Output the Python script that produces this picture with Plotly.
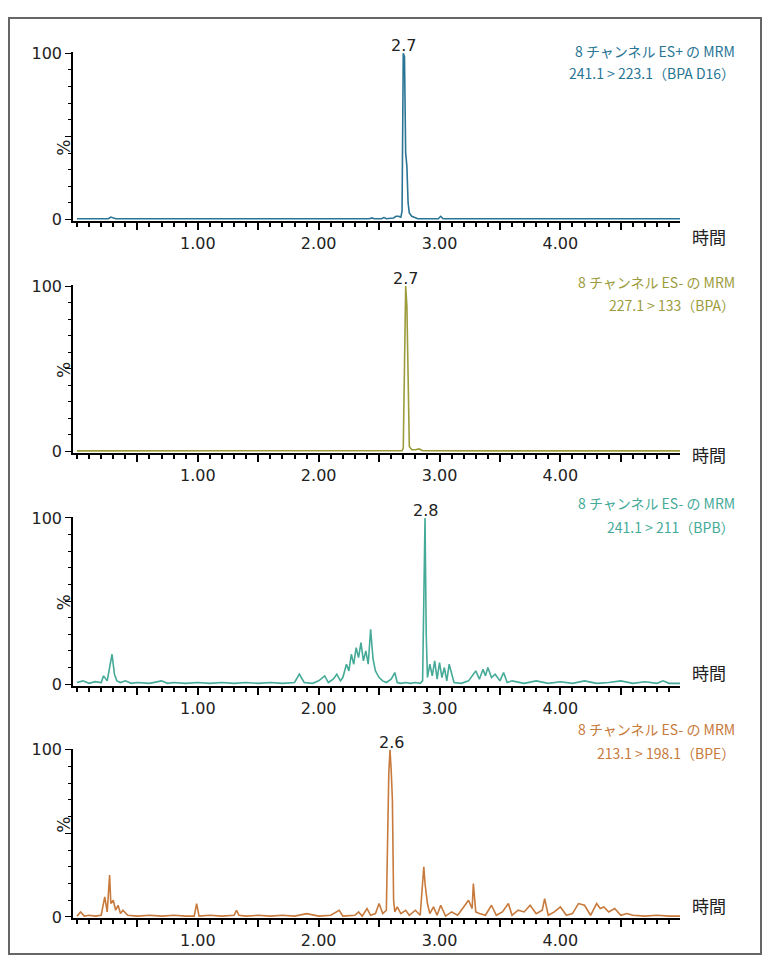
import plotly.graph_objects as go

W, H = 770, 971
OFF = 8
FW, FH = W - 2 * OFF, H - 2 * OFF

# ---- data ----
t1 = [0.0, 0.26, 0.28, 0.30, 0.32, 1.0, 2.0, 2.42, 2.44, 2.46, 2.52, 2.54, 2.56, 2.62, 2.64, 2.66, 2.68, 2.69, 2.70, 2.71, 2.72, 2.73, 2.74, 2.75, 2.77, 2.79, 2.82, 2.90, 2.99, 3.01, 3.03, 3.5, 4.0, 4.99]
y1 = [0.5, 0.5, 1.5, 1.0, 0.5, 0.5, 0.5, 0.5, 1.0, 0.5, 0.5, 1.2, 0.5, 1.0, 2.0, 2.0, 1.5, 5.0, 100, 98, 40, 32, 10, 4, 2, 1.5, 0.5, 0.5, 0.5, 2.0, 0.5, 0.5, 0.5, 0.5]

t2 = [0.0, 1.0, 2.0, 2.6, 2.69, 2.70, 2.71, 2.72, 2.73, 2.74, 2.75, 2.77, 2.80, 2.83, 2.86, 3.5, 4.99]
y2 = [0.3, 0.3, 0.3, 0.3, 0.5, 2, 60, 100, 88, 55, 3, 1, 1, 1.5, 0.5, 0.3, 0.3]

t3 = [0.0, 0.05, 0.1, 0.15, 0.2, 0.22, 0.25, 0.27, 0.29, 0.31, 0.33, 0.36, 0.4, 0.45, 0.5, 0.6, 0.7, 0.75, 0.8, 0.9,
      1.0, 1.1, 1.2, 1.3, 1.4, 1.5, 1.6, 1.7, 1.8, 1.84, 1.88, 1.95, 2.0, 2.05, 2.08, 2.12, 2.15, 2.18, 2.2, 2.23,
      2.25, 2.27, 2.29, 2.31, 2.33, 2.35, 2.37, 2.39, 2.41, 2.43, 2.45, 2.47, 2.5, 2.53, 2.56, 2.6, 2.63, 2.65, 2.68,
      2.72, 2.76, 2.8, 2.84, 2.86, 2.87, 2.88, 2.89, 2.9, 2.92, 2.94, 2.96, 2.98, 3.0, 3.02, 3.04, 3.06, 3.08, 3.12,
      3.18, 3.24, 3.28, 3.3, 3.33, 3.36, 3.38, 3.4, 3.43, 3.46, 3.5, 3.53, 3.56, 3.6, 3.7, 3.8, 3.9, 4.0, 4.1, 4.2,
      4.3, 4.4, 4.5, 4.6, 4.7, 4.8, 4.85, 4.9, 4.99]
y3 = [1, 2, 0.5, 1.5, 1, 5, 2, 10, 18, 6, 2, 1, 2, 0.5, 1, 0.5, 2, 0.5, 1, 0.5,
      1, 0.5, 1, 0.5, 1, 0.5, 1, 0.5, 1, 6, 1, 0.5, 2, 5, 1, 3, 6, 2, 4, 12,
      8, 18, 12, 22, 16, 25, 14, 20, 12, 33, 15, 8, 4, 2, 1, 3, 7, 1, 0.5,
      1, 0.5, 1, 0.5, 2, 60, 100, 30, 4, 12, 5, 14, 3, 13, 4, 10, 2, 12, 1,
      0.5, 2, 6, 8, 3, 9, 5, 10, 4, 6, 2, 7, 1, 2, 0.5, 2, 0.5, 1.5, 0.5, 2,
      0.5, 1, 2, 0.5, 1.5, 0.5, 2, 0.5, 0.5]

t4 = [0.0, 0.03, 0.06, 0.1, 0.15, 0.2, 0.23, 0.25, 0.27, 0.28, 0.3, 0.32, 0.34, 0.36, 0.38, 0.42, 0.5, 0.6, 0.7, 0.8,
      0.9, 0.97, 0.99, 1.01, 1.1, 1.2, 1.3, 1.32, 1.34, 1.4, 1.5, 1.6, 1.7, 1.8, 1.9, 2.0, 2.1, 2.17, 2.2, 2.3,
      2.33, 2.36, 2.4, 2.43, 2.47, 2.5, 2.53, 2.56, 2.58, 2.59, 2.60, 2.61, 2.62, 2.63, 2.65, 2.68, 2.72, 2.75, 2.8,
      2.84, 2.87, 2.88, 2.9, 2.92, 2.95, 2.98, 3.01, 3.05, 3.1, 3.15, 3.2, 3.24, 3.27, 3.28, 3.3, 3.33, 3.38, 3.43,
      3.47, 3.52, 3.57, 3.6, 3.65, 3.7, 3.75, 3.8, 3.85, 3.87, 3.9, 3.95, 4.0, 4.05, 4.1, 4.15, 4.2, 4.25, 4.3, 4.33,
      4.36, 4.4, 4.45, 4.5, 4.55, 4.6, 4.7, 4.8, 4.9, 4.99]
y4 = [0.5, 3, 0.5, 1, 0.5, 1, 12, 3, 25, 8, 10, 4, 7, 2, 4, 1, 0.5, 1, 0.5, 1,
      0.5, 0.5, 8, 0.5, 1, 0.5, 1, 4, 1, 0.5, 1, 0.5, 1, 0.5, 2, 0.5, 1, 4, 0.5, 1,
      3, 0.5, 5, 1, 2, 8, 2, 4, 85, 100, 88, 70, 10, 3, 6, 2, 4, 1, 4,
      1, 30, 20, 8, 2, 6, 1, 7, 0.5, 3, 1, 6, 10, 5, 20, 3, 2, 1, 7,
      1, 3, 8, 1, 4, 3, 7, 2, 4, 11, 1, 3, 6, 1, 2, 8, 7, 1, 8, 5,
      6, 3, 5, 1, 2, 1, 0.5, 1, 0.5, 0.5]

series = [(t1, y1), (t2, y2), (t3, y3), (t4, y4)]
colors = ["#2a7595", "#9c9c3c", "#45aa98", "#c77a3c"]
peak_labels = ["2.7", "2.7", "2.8", "2.6"]
peak_times = [2.70, 2.72, 2.88, 2.60]
titles = [["8 チャンネル ES+ の MRM", "241.1 > 223.1（BPA D16）"],
          ["8 チャンネル ES- の MRM", "227.1 > 133（BPA）"],
          ["8 チャンネル ES- の MRM", "241.1 > 211（BPB）"],
          ["8 チャンネル ES- の MRM", "213.1 > 198.1（BPE）"]]
xtick_vals = [0.5, 1.0, 1.5, 2.0, 2.5, 3.0, 3.5, 4.0, 4.5]
xtick_text = ["", "1.00", "", "2.00", "", "3.00", "", "4.00", ""]

# pixel geometry (screenshot coords)
y100 = [45, 282, 518, 754]
y0 = [217, 453, 690, 927]
title_y = [[30, 53], [266, 289], [503, 527], [745, 770]]
xl, xr = 73, 680
XR = [-0.033, 4.99]
YR = [-0.8, 100.5]

def px(p):
    return (p - OFF) / FW
def py(p):
    return 1 - (p - OFF) / FH

fig = go.Figure()
ann = []
font = "DejaVu Sans, Verdana, sans-serif"
for i, (t, y) in enumerate(series):
    n = i + 1
    xa = "x" if n == 1 else f"x{n}"
    ya = "y" if n == 1 else f"y{n}"
    fig.add_trace(go.Scatter(x=t, y=y, mode="lines", line=dict(color=colors[i], width=1.6),
                             xaxis=xa, yaxis=ya, showlegend=False, hoverinfo="skip"))
    s = (y0[i] - y100[i]) / 100.0
    ptop = y100[i] - (YR[1] - 100) * s
    pbot = y0[i] - (0 - YR[0]) * s
    xk = "xaxis" if n == 1 else f"xaxis{n}"
    yk = "yaxis" if n == 1 else f"yaxis{n}"
    fig.layout[xk] = dict(domain=[px(xl), px(xr)], range=XR, anchor=ya, showgrid=False, zeroline=False,
                          showline=True, linecolor="black", linewidth=2,
                          tickmode="array", tickvals=xtick_vals, ticktext=xtick_text,
                          ticks="outside", ticklen=7, tickcolor="black", tickwidth=1.5,
                          minor=dict(dtick=0.1, tick0=0, ticks="outside", ticklen=4, tickcolor="black"),
                          tickfont=dict(family=font, size=16, color="#222"))
    fig.layout[yk] = dict(domain=[py(pbot), py(ptop)], range=YR, anchor=xa, showgrid=False, zeroline=False,
                          showline=True, linecolor="black", linewidth=1.5,
                          tickmode="array", tickvals=[0, 50, 100], ticktext=["0", "", "100"],
                          ticks="outside", ticklen=6, tickcolor="black",
                          minor=dict(dtick=10, tick0=0, ticks="outside", ticklen=3, tickcolor="black"),
                          tickfont=dict(family=font, size=16, color="#222"))
    ann.append(dict(xref="paper", yref="paper", x=px(52), y=py((y0[i] + y100[i]) / 2), text="%",
                    textangle=-90, showarrow=False, font=dict(family=font, size=17, color="#222")))
    ann.append(dict(xref="paper", yref="paper", x=px(690), y=py(y0[i]), text="時間", xanchor="left",
                    showarrow=False, font=dict(family="Noto Sans CJK JP", size=17, color="#222")))
    ann.append(dict(xref=xa, yref=ya, x=peak_times[i], y=100, text=peak_labels[i], yanchor="bottom",
                    showarrow=False, font=dict(family=font, size=16, color="#222"), yshift=-4))
    for j, line in enumerate(titles[i]):
        ann.append(dict(xref="paper", yref="paper", x=px(737), y=py(title_y[i][j]), text=line,
                        xanchor="right", showarrow=False,
                        font=dict(family="Noto Sans CJK JP", size=14, color=colors[i])))

fig.update_layout(width=FW, height=FH, margin=dict(l=0, r=0, t=0, b=0), plot_bgcolor="white",
                  paper_bgcolor="white", annotations=ann,
                  shapes=[dict(type="rect", xref="paper", yref="paper", x0=px(9), x1=px(761),
                               y0=py(962), y1=py(9), line=dict(color="#666", width=2))])
fig.write_html("out.html")
